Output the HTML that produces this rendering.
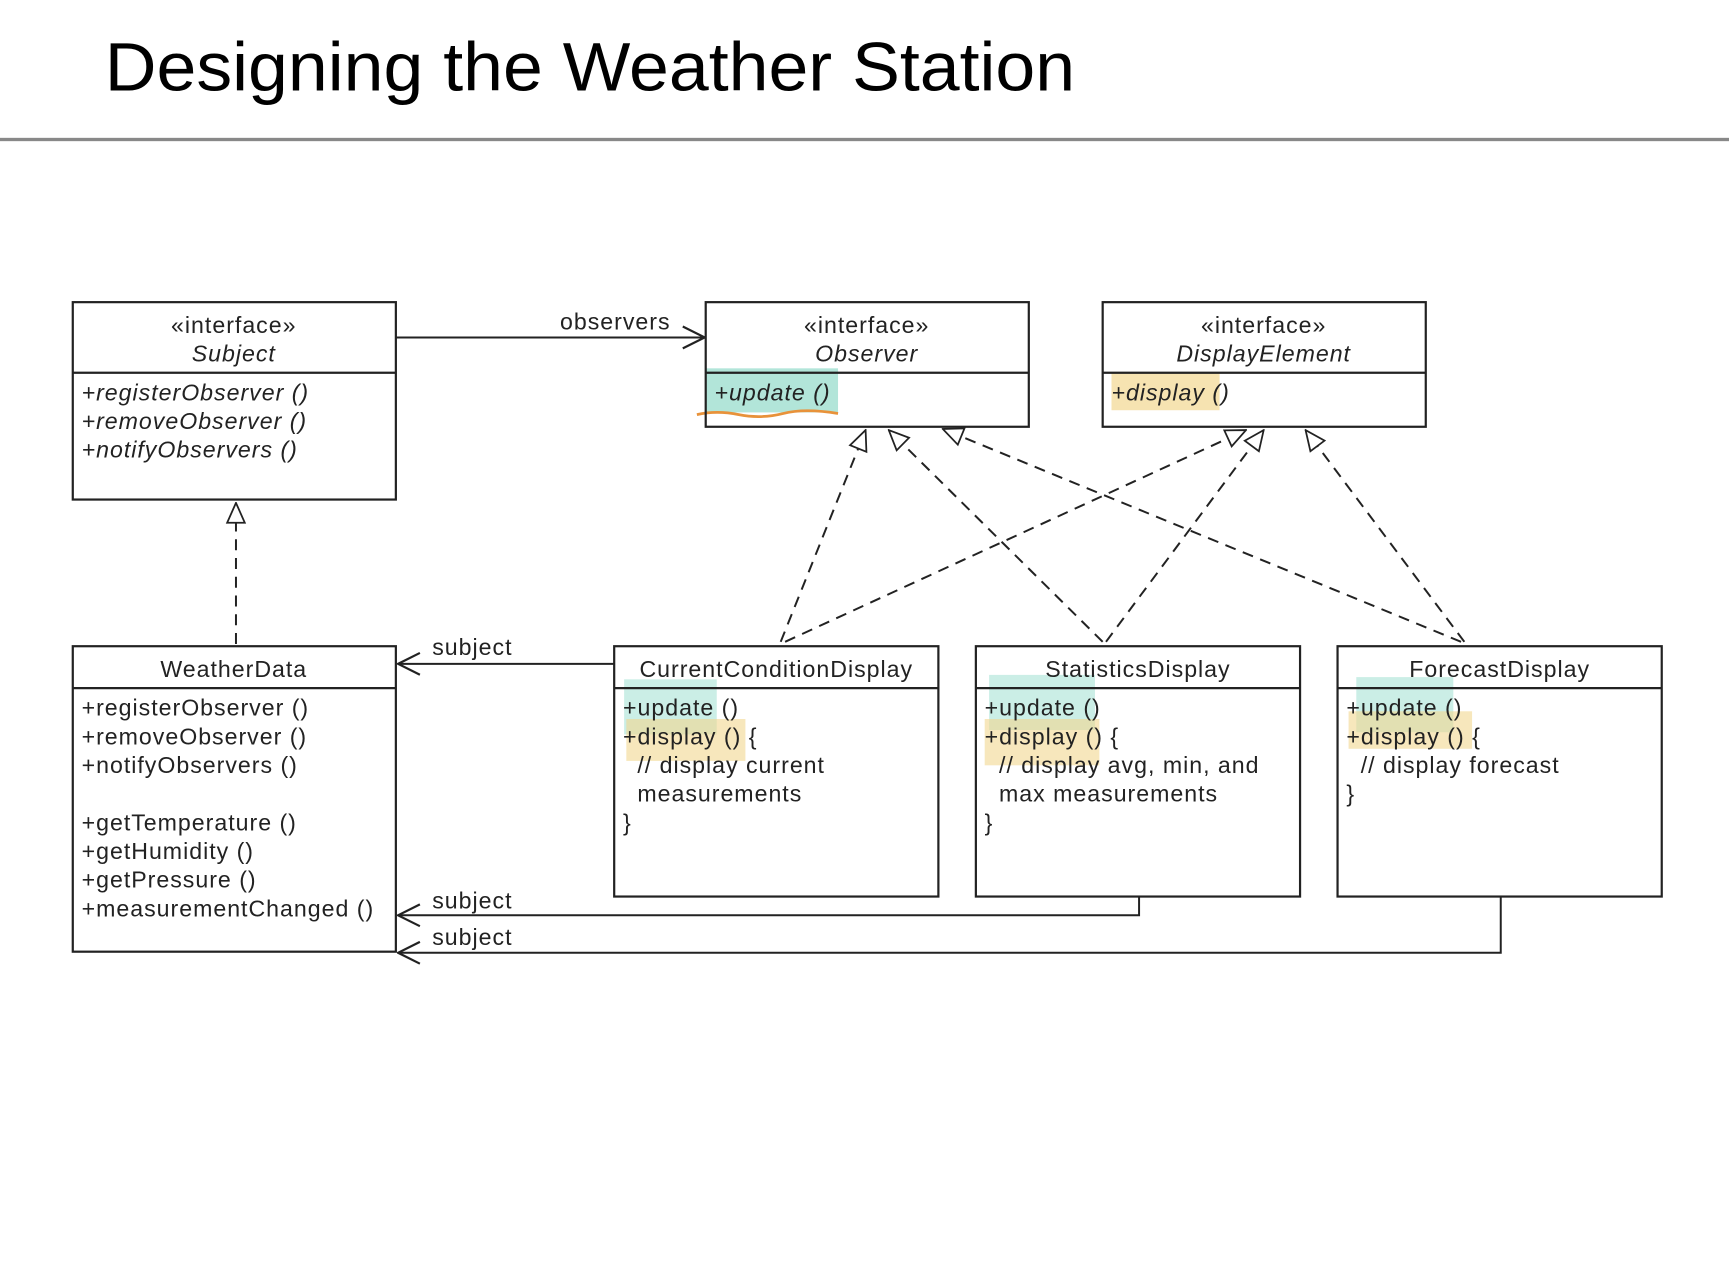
<!DOCTYPE html>
<html><head><meta charset="utf-8"><style>html,body{margin:0;padding:0;background:#fff}svg{display:block}</style></head>
<body>
<svg width="1729" height="1277" viewBox="0 0 1568 1158" preserveAspectRatio="none" xmlns="http://www.w3.org/2000/svg" font-family="Liberation Sans, sans-serif">
<defs>
<marker id="tri" viewBox="0 0 20 20" refX="19" refY="10" markerWidth="20" markerHeight="20" markerUnits="userSpaceOnUse" orient="auto">
<path d="M1,2 L19,10 L1,18 Z" fill="#fff" stroke="#222" stroke-width="1.6"/></marker>
<marker id="open" viewBox="0 0 20 20" refX="19" refY="10" markerWidth="22" markerHeight="22" markerUnits="userSpaceOnUse" orient="auto">
<path d="M1,1 L19,10 L1,19" fill="none" stroke="#222" stroke-width="1.8"/></marker>
</defs>
<rect width="1568" height="1158" fill="#fff"/>
<text x="95" y="82" font-size="62" textLength="880" lengthAdjust="spacingAndGlyphs" fill="#000">Designing the Weather Station</text>
<rect x="0" y="125" width="1568" height="3" fill="#888"/>

<g>
<rect x="640" y="334" width="120" height="40" fill="#7fd3c0" opacity="0.6"/>
<path d="M632,376 Q650,372 670,376 T710,375 T760,375" fill="none" stroke="#e8923a" stroke-width="2.5"/>
<rect x="1008" y="338" width="98" height="34" fill="#f2d790" opacity="0.7"/>
<rect x="566" y="616" width="84" height="50" fill="#a9e2d5" opacity="0.6"/>
<rect x="568" y="652" width="108" height="38" fill="#f2d790" opacity="0.6"/>
<rect x="897" y="612" width="96" height="50" fill="#a9e2d5" opacity="0.6"/>
<rect x="893" y="652" width="104" height="42" fill="#f2d790" opacity="0.6"/>
<rect x="1230" y="614" width="88" height="50" fill="#a9e2d5" opacity="0.6"/>
<rect x="1223" y="645" width="112" height="34" fill="#f2d790" opacity="0.6"/>
</g>

<g fill="none" stroke="#222" stroke-width="2">
<rect x="66" y="274" width="293" height="179"/><line x1="66" y1="338" x2="359" y2="338"/>
<rect x="640" y="274" width="293" height="113"/><line x1="640" y1="338" x2="933" y2="338"/>
<rect x="1000" y="274" width="293" height="113"/><line x1="1000" y1="338" x2="1293" y2="338"/>
<rect x="66" y="586" width="293" height="277"/><line x1="66" y1="624" x2="359" y2="624"/>
<rect x="557" y="586" width="294" height="227"/><line x1="557" y1="624" x2="851" y2="624"/>
<rect x="885" y="586" width="294" height="227"/><line x1="885" y1="624" x2="1179" y2="624"/>
<rect x="1213" y="586" width="294" height="227"/><line x1="1213" y1="624" x2="1507" y2="624"/>
</g>

<g fill="none" stroke="#222" stroke-width="1.8">
<line x1="359" y1="306" x2="639" y2="306" marker-end="url(#open)"/>
<line x1="557" y1="602" x2="361" y2="602" marker-end="url(#open)"/>
<polyline points="1033,813 1033,830 361,830" marker-end="url(#open)"/>
<polyline points="1361,813 1361,864 361,864" marker-end="url(#open)"/>
</g>
<g fill="none" stroke="#222" stroke-width="1.8" stroke-dasharray="10,7">
<line x1="214" y1="584" x2="214" y2="456" marker-end="url(#tri)"/>
<line x1="708" y1="582" x2="785" y2="390" marker-end="url(#tri)"/>
<line x1="712" y1="582" x2="1130" y2="390" marker-end="url(#tri)"/>
<line x1="1000" y1="582" x2="806" y2="390" marker-end="url(#tri)"/>
<line x1="1003" y1="582" x2="1146" y2="390" marker-end="url(#tri)"/>
<line x1="1325" y1="582" x2="855" y2="389" marker-end="url(#tri)"/>
<line x1="1328" y1="582" x2="1184" y2="390" marker-end="url(#tri)"/>
</g>

<g font-size="21" letter-spacing="0.9" fill="#222">
<text x="558" y="299" text-anchor="middle">observers</text>
<text x="392" y="594">subject</text>
<text x="392" y="824">subject</text>
<text x="392" y="857">subject</text>

<text x="212" y="302" text-anchor="middle">«interface»</text>
<text x="212" y="328" text-anchor="middle" font-style="italic">Subject</text>
<g font-style="italic"><text x="74" y="363">+registerObserver ()</text><text x="74" y="389">+removeObserver ()</text><text x="74" y="415">+notifyObservers ()</text></g>

<text x="786" y="302" text-anchor="middle">«interface»</text>
<text x="786" y="328" text-anchor="middle" font-style="italic">Observer</text>
<text x="648" y="363" font-style="italic">+update ()</text>

<text x="1146" y="302" text-anchor="middle">«interface»</text>
<text x="1146" y="328" text-anchor="middle" font-style="italic">DisplayElement</text>
<text x="1008" y="363" font-style="italic">+display ()</text>

<text x="212" y="614" text-anchor="middle">WeatherData</text>
<text x="74" y="649">+registerObserver ()</text><text x="74" y="675">+removeObserver ()</text><text x="74" y="701">+notifyObservers ()</text>
<text x="74" y="753">+getTemperature ()</text><text x="74" y="779">+getHumidity ()</text><text x="74" y="805">+getPressure ()</text><text x="74" y="831">+measurementChanged ()</text>

<text x="704" y="614" text-anchor="middle">CurrentConditionDisplay</text>
<text x="565" y="649">+update ()</text><text x="565" y="675">+display () {</text>
<text x="578" y="701">// display current</text><text x="578" y="727">measurements</text><text x="565" y="753">}</text>

<text x="1032" y="614" text-anchor="middle">StatisticsDisplay</text>
<text x="893" y="649">+update ()</text><text x="893" y="675">+display () {</text>
<text x="906" y="701">// display avg, min, and</text><text x="906" y="727">max measurements</text><text x="893" y="753">}</text>

<text x="1360" y="614" text-anchor="middle">ForecastDisplay</text>
<text x="1221" y="649">+update ()</text><text x="1221" y="675">+display () {</text>
<text x="1234" y="701">// display forecast</text><text x="1221" y="727">}</text>
</g>
</svg>
</body></html>
